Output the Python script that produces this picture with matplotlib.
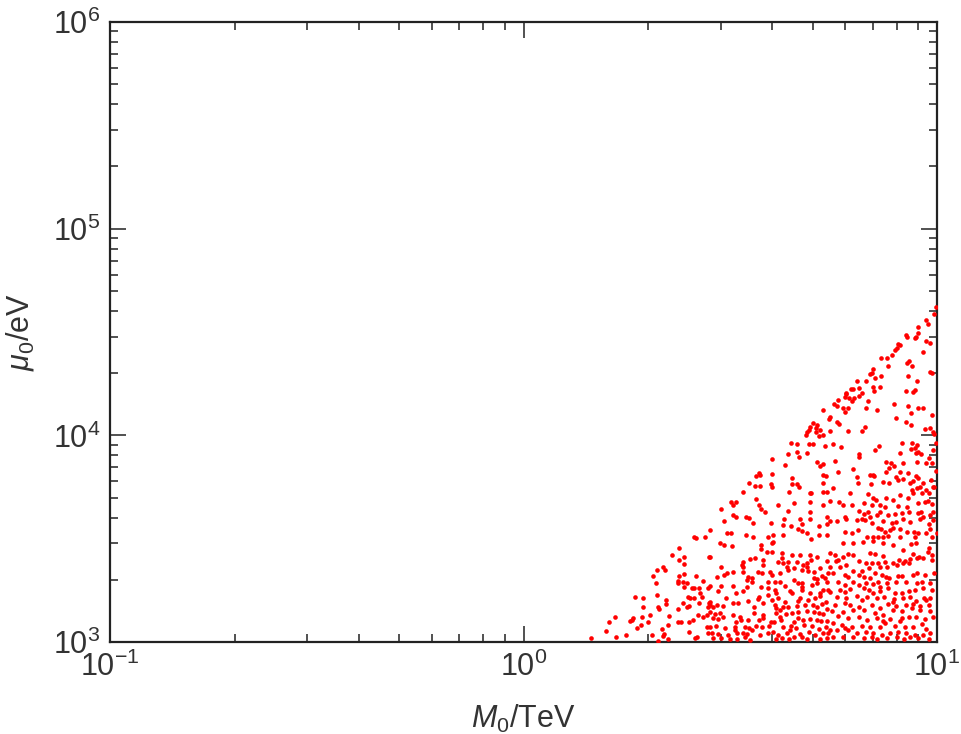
import numpy as np
import matplotlib
matplotlib.use('Agg')
import matplotlib.pyplot as plt
from matplotlib.ticker import LogLocator, NullFormatter

# scan points: M0 in TeV, mu0 in eV
M0 = [
    # 1.4 - 2.8 TeV
    2.58, 2.615, 2.75, 2.38, 2.28, 2.44, 2.38, 2.81, 2.44, 2.18, 2.2, 2.1, 2.06, 2.38, 2.44, 2.615,
    2.36, 2.43, 2.36, 2.49, 2.09, 2.44, 2.55, 2.59, 2.655, 2.72, 2.80, 2.67, 2.70, 2.50, 2.53, 2.59,
    2.10, 2.21, 2.21, 2.43, 2.655, 2.81, 1.86, 1.94, 1.94, 2.12, 2.13, 2.37, 2.49, 2.51, 2.80, 2.02,
    2.25, 1.66, 1.61, 1.81, 1.83, 1.84, 1.93, 2.00, 2.37, 2.41, 2.51, 2.57, 2.64, 2.72, 2.78, 1.92,
    1.88, 2.23, 2.16, 2.52, 1.58, 1.67, 1.77, 1.46, 2.05, 2.19, 2.17, 2.23, 2.60, 2.63, 2.12, 2.78,
    2.80,
    # 2.8 - 5.5 TeV, upper part
    5.31, 5.49, 5.00, 5.12, 4.93, 5.10, 4.89, 5.21, 4.86, 4.82, 5.10, 5.17, 5.31, 4.43, 4.58, 4.89,
    5.00, 5.35, 4.58, 4.84, 4.35, 4.65, 4.00, 5.14, 5.21, 5.31, 4.28, 3.72, 3.73, 3.66, 4.00, 5.31,
    5.39, 4.46, 3.52, 3.63, 3.73, 3.96, 4.00, 4.46, 4.58, 4.65, 5.31, 3.40, 4.39, 4.93, 4.97, 5.31,
    5.43, 3.66, 3.18, 3.26, 3.21, 3.72, 4.50, 4.93, 3.75, 3.83, 4.12, 4.35, 4.93, 5.31, 3.01, 3.21,
    3.26, 3.45, 3.52, 4.27, 4.66, 4.93, 5.43,
    # 2.8 - 5.5 TeV, lower part
    3.06, 3.58, 3.97, 4.24, 4.44, 4.71, 5.19, 5.41, 4.62, 4.71, 2.83, 3.11, 3.17, 3.45, 3.58, 3.91,
    4.02, 4.25, 4.84, 4.95, 5.17, 5.41, 3.98, 4.02, 3.75, 3.75, 2.98, 3.06, 3.19, 2.83, 3.87, 4.00,
    4.21, 4.21, 4.46, 4.66, 4.93, 5.14, 3.53, 3.63, 3.80, 4.12, 4.25, 4.37, 3.40, 3.37, 3.40, 3.80,
    4.58, 4.75, 4.84, 4.95, 5.41, 3.01, 3.11, 3.06, 3.22, 3.40, 3.50, 3.57, 3.70, 3.77, 3.95, 3.98,
    4.17, 4.33, 4.37, 4.50, 4.84, 4.71, 4.87, 5.03, 5.21, 5.26, 5.46, 2.93, 3.47, 3.57, 3.91, 4.06,
    4.17, 4.50, 4.62, 4.71, 5.03, 5.12, 5.35, 5.41, 2.83, 3.01, 3.21, 3.48, 3.75, 3.91, 4.06, 4.28,
    4.71, 4.98, 5.12, 5.31, 2.96, 3.40, 3.26, 3.72, 3.91, 4.09, 4.41, 4.46, 4.71, 4.93, 5.21, 5.46,
    2.83, 3.09, 3.30, 3.49, 3.69, 3.80, 3.98, 4.12, 4.28, 4.62, 4.66, 4.87, 5.07, 5.21, 5.39, 2.83,
    2.88, 2.93, 3.03, 3.21, 3.60, 4.06, 4.09, 4.17, 4.25, 4.37, 4.58, 4.80, 5.00, 5.12, 5.26, 5.43,
    2.83, 2.90, 2.99, 3.03, 3.21, 3.33, 3.60, 3.79, 4.09, 4.17, 4.31, 4.46, 4.61, 4.84, 5.05, 5.17,
    5.31, 2.88, 2.96, 3.26, 3.35, 3.50, 3.72, 3.80, 3.96, 4.03, 4.19, 4.50, 4.62, 4.75, 4.93, 5.12,
    5.24, 5.41, 2.83, 2.92, 3.07, 3.24, 3.43, 3.52, 3.65, 3.77, 3.93, 4.25, 4.43, 4.56, 4.77, 4.98,
    5.17, 5.39, 2.85, 2.96, 3.13, 3.24, 3.28, 3.40, 3.47, 3.57, 3.73, 3.91, 4.02, 4.13, 4.33, 4.41,
    4.66, 4.89, 5.07, 5.31, 5.46, 2.88, 3.01, 3.16, 3.28, 3.43, 3.53, 4.09, 4.21, 4.39, 4.50, 4.71,
    4.84, 5.21, 5.41,
    # 5.5 - 10 TeV, top edge
    9.94, 9.83, 9.42, 9.51, 8.98, 9.01, 8.42, 8.45, 8.85, 8.90, 9.42, 9.62, 9.25, 8.06, 8.14, 7.99,
    7.92, 7.77, 7.58, 7.33, 7.63, 8.57, 8.48, 8.68, 9.62, 9.71, 7.02, 6.95, 6.89, 7.10, 7.33, 6.73,
    6.42, 8.49, 8.93, 6.49, 6.20, 6.25, 6.01, 6.03, 6.60, 6.99, 7.05, 7.28, 8.42, 8.85, 8.77, 5.99,
    6.13, 6.31, 6.49, 6.22, 5.77, 5.63, 5.72, 6.82, 7.89, 5.92, 5.99, 6.10, 6.73, 7.15, 8.49, 9.01,
    9.25, 8.64, 7.96, 9.71, 5.51,
    # 5.5 - 10 TeV, middle
    5.74, 5.80, 5.51, 6.10, 6.60, 6.70, 8.42, 8.65, 9.38, 9.62, 9.79, 9.83, 9.94, 5.61, 5.86, 7.25,
    7.08, 8.22, 8.68, 8.96, 8.85, 8.64, 9.01, 8.90, 9.15, 8.14, 6.49, 6.49, 9.76, 9.58, 5.66, 7.52,
    7.74, 7.89, 7.67, 7.52, 8.26, 8.93, 9.42, 9.71, 6.27, 5.77, 6.89, 7.05, 6.99, 6.40, 6.44, 6.93,
    7.42, 7.67, 7.96, 8.06, 8.14, 8.26, 8.49, 8.60, 8.73, 8.90, 8.98, 9.10, 9.27, 9.66, 9.94, 9.79,
    5.61, 6.16, 6.80, 6.99, 7.12, 7.52, 7.81, 8.14, 8.49, 8.68, 8.77, 8.96, 9.18, 9.42, 9.58, 9.85,
    5.51, 5.80, 5.94, 6.22, 6.65, 6.95, 7.28, 7.48, 8.06, 8.45, 9.01, 9.38, 9.51, 9.71, 6.49, 6.65,
    6.80, 6.89, 6.60, 6.70, 7.15, 7.28, 7.63, 7.92, 7.96, 8.22, 8.57, 8.98, 9.15, 9.27, 9.62, 9.79,
    5.51, 5.72, 5.99, 6.01, 6.40, 6.95, 7.42, 7.77, 8.26, 8.60, 9.10, 9.58, 9.79, 5.99, 6.22, 6.44,
    6.78, 7.02, 7.22, 7.31, 7.48, 7.70, 7.84, 8.14, 8.45, 8.81, 8.98, 9.42, 9.62, 9.98, 7.19, 7.42,
    7.63, 8.14, 8.85, 9.71,
    # 5.5 - 10 TeV, bottom
    5.92, 6.27, 6.64, 6.99, 7.42, 7.81, 8.65, 8.90, 9.58, 5.51, 5.66, 5.94, 6.10, 6.27, 6.89, 7.08,
    7.39, 8.26, 8.73, 9.06, 9.51, 9.71, 5.77, 6.03, 5.83, 5.70, 6.46, 6.73, 6.95, 7.22, 7.48, 7.84,
    8.11, 8.35, 8.60, 8.93, 9.27, 9.71, 5.51, 6.27, 6.60, 6.86, 7.28, 7.58, 7.99, 8.26, 8.57, 5.61,
    5.99, 6.10, 6.46, 6.65, 6.89, 7.08, 7.35, 7.52, 7.67, 8.06, 8.22, 8.73, 8.93, 9.35, 9.83, 5.77,
    5.99, 6.27, 6.49, 6.73, 7.02, 7.22, 7.28, 7.55, 7.96, 8.42, 8.93, 9.18, 9.62, 5.51, 5.83, 5.99,
    6.16, 6.65, 6.86, 6.99, 7.28, 7.63, 7.92, 8.22, 8.57, 8.85, 9.27, 9.71, 5.72, 6.03, 6.40, 6.60,
    6.76, 7.15, 7.45, 7.89, 8.26, 8.60, 8.90, 9.32, 9.42, 9.62, 5.66, 5.99, 6.16, 6.46, 6.65, 6.95,
    7.28, 7.63, 7.84, 7.96, 8.42, 8.77, 9.10, 9.58, 5.56, 5.94, 6.27, 7.08, 7.42, 7.81, 8.22, 8.68,
    9.10, 9.62, 5.77, 6.10, 6.46, 6.76, 7.15, 7.39, 7.70, 8.14, 8.22, 8.57, 8.90, 9.35, 9.79, 5.61,
    5.89, 5.99, 6.22, 6.60, 6.89, 7.28, 7.48, 7.92, 8.37, 8.77, 9.18, 9.42, 5.51, 5.72, 6.10, 6.40,
    6.73, 7.02, 7.35, 7.70, 8.06, 8.42, 8.85, 9.25, 9.62, 5.61, 5.94, 6.27, 6.65, 6.95, 7.15, 7.55,
    7.99, 8.30, 8.60, 9.01, 9.58,
]

mu0 = [
    # 1.4 - 2.8 TeV
    3230, 3175, 3210, 2860, 2640, 2585, 2493, 2585, 2375, 2300, 2230, 2230, 2085, 2085, 2125, 2085,
    1973, 1950, 1925, 1925, 1925, 1850, 1830, 1830, 1818, 1980, 1818, 1735, 1660, 1660, 1630, 1630,
    1690, 1597, 1520, 1550, 1550, 1550, 1660, 1630, 1480, 1470, 1445, 1445, 1470, 1500, 1470, 1350,
    1335, 1318, 1254, 1263, 1278, 1302, 1318, 1254, 1254, 1254, 1254, 1278, 1350, 1325, 1350, 1209,
    1173, 1209, 1152, 1114, 1134, 1061, 1077, 1049, 1077, 1093, 1066, 1030, 1045, 1061, 1015, 1178,
    1101,
    # 2.8 - 5.5 TeV, upper part
    13260, 11950, 11440, 11230, 10940, 10830, 10610, 10610, 10340, 10030, 10340, 9920, 10030, 9210, 9100, 9100,
    9100, 8920, 8330, 8230, 8080, 7830, 7680, 7460, 7110, 7270, 7190, 6610, 6450, 6340, 6510, 6450,
    6340, 6200, 5900, 5700, 5700, 5810, 5600, 5810, 5810, 5600, 5900, 5340, 5340, 5280, 5280, 5340,
    5340, 4900, 4770, 4770, 4610, 4610, 4690, 4770, 4390, 4250, 4610, 4320, 4250, 4610, 4390, 4120,
    4040, 4040, 4000, 3930, 3920, 3960, 4040,
    # 2.8 - 5.5 TeV, lower part
    3850, 3780, 3780, 3680, 3650, 3720, 3650, 3720, 3520, 3460, 3480, 3380, 3380, 3300, 3220, 3220,
    3300, 3300, 3360, 3150, 3300, 3300, 3000, 3050, 2950, 2810, 3000, 2950, 2920, 2590, 2740, 2720,
    2690, 2540, 2640, 2640, 2640, 2570, 2510, 2540, 2490, 2450, 2420, 2450, 2450, 2360, 2310, 2360,
    2450, 2360, 2420, 2490, 2470, 2310, 2150, 2110, 2190, 2190, 2070, 2030, 2190, 2160, 2190, 2110,
    2150, 2310, 2230, 2270, 2310, 2230, 2210, 2190, 2270, 2090, 2150, 2060, 2000, 1960, 1960, 1960,
    1960, 2000, 1925, 1925, 2030, 2010, 2030, 1960, 1865, 1865, 1865, 1850, 1850, 1820, 1785, 1865,
    1850, 1890, 1925, 1785, 1770, 1770, 1735, 1660, 1690, 1720, 1770, 1720, 1785, 1720, 1735, 1785,
    1570, 1630, 1550, 1585, 1615, 1550, 1597, 1630, 1570, 1585, 1630, 1597, 1630, 1670, 1570, 1510,
    1480, 1510, 1490, 1540, 1470, 1510, 1455, 1428, 1470, 1470, 1490, 1510, 1510, 1470, 1525, 1440,
    1400, 1365, 1375, 1325, 1350, 1325, 1375, 1350, 1385, 1325, 1365, 1385, 1400, 1415, 1400, 1385,
    1360, 1302, 1288, 1254, 1278, 1278, 1278, 1302, 1254, 1254, 1278, 1254, 1302, 1278, 1288, 1278,
    1263, 1268, 1186, 1195, 1165, 1186, 1186, 1165, 1195, 1178, 1195, 1178, 1195, 1165, 1209, 1195,
    1152, 1178, 1109, 1093, 1081, 1143, 1109, 1109, 1093, 1143, 1081, 1109, 1122, 1081, 1101, 1143,
    1093, 1122, 1081, 1101, 1109, 1042, 1042, 1030, 1030, 1061, 1022, 1030, 1042, 1030, 1061, 1055,
    1030, 1030, 1042,
    # 5.5 - 10 TeV, top edge
    41600, 38800, 36130, 34500, 33300, 31300, 30700, 29900, 29500, 30000, 28700, 28000, 25200, 27600, 27300, 26600,
    25860, 24500, 23600, 23600, 21700, 22900, 22300, 21600, 20300, 20100, 20900, 20100, 19800, 19000, 19400, 18400,
    18400, 19400, 18400, 16900, 16700, 16700, 16100, 15800, 16100, 17200, 16400, 17200, 16400, 16570, 16250, 15400,
    15100, 15100, 15500, 14700, 14900, 14200, 13900, 14700, 14200, 13500, 13000, 13500, 13500, 13260, 13800, 13500,
    13500, 12800, 12200, 12500, 12300,
    # 5.5 - 10 TeV, middle
    11640, 11350, 10530, 10530, 10530, 10940, 11640, 11230, 10690, 10800, 10400, 10140, 9140, 9100, 8750, 8920,
    8490, 9210, 9210, 8980, 8640, 8560, 8330, 8190, 8080, 8230, 8120, 7880, 8490, 7750, 7540, 7400,
    7320, 7110, 6970, 6670, 7320, 7450, 7370, 7370, 6850, 6620, 6450, 6340, 6450, 6300, 5860, 5810,
    5930, 5860, 6300, 6078, 6670, 6130, 6550, 5860, 6030, 6380, 6200, 5650, 5900, 6078, 6720, 5650,
    5540, 5280, 5190, 4990, 4864, 5000, 4864, 5150, 4990, 5438, 5280, 5540, 5280, 5438, 5250, 5650,
    4820, 4770, 4610, 4610, 4690, 4610, 4610, 4480, 4550, 4480, 4720, 4770, 4820, 4650, 4320, 4160,
    4270, 4040, 3960, 3893, 4120, 4270, 4120, 4160, 3820, 4190, 4270, 4190, 4250, 4040, 4120, 4270,
    3860, 3860, 4040, 3920, 3893, 3780, 3860, 3750, 3920, 3820, 3920, 3720, 3893, 3420, 3360, 3483,
    3230, 3230, 3550, 3510, 3420, 3483, 3550, 3510, 3420, 3420, 3380, 3360, 3510, 3380, 3220, 3230,
    3260, 3230, 3230, 3220,
    # 5.5 - 10 TeV, bottom
    3000, 3000, 3060, 3080, 3000, 2950, 2980, 3000, 2840, 2700, 2640, 2590, 2670, 2640, 2690, 2670,
    2610, 2787, 2670, 2590, 2730, 2640, 2493, 2360, 2300, 2470, 2470, 2420, 2420, 2420, 2450, 2420,
    2493, 2465, 2510, 2540, 2540, 2493, 2300, 2210, 2210, 2270, 2300, 2310, 2360, 2400, 2400, 2150,
    2110, 2070, 2110, 2070, 2030, 2150, 2110, 2070, 2030, 2085, 2085, 2110, 2150, 2110, 2150, 1960,
    1890, 1960, 1890, 1940, 1910, 1960, 1850, 1925, 1960, 1960, 1940, 1960, 1925, 1750, 1785, 1750,
    1800, 1820, 1785, 1735, 1770, 1820, 1720, 1735, 1770, 1785, 1820, 1785, 1660, 1630, 1670, 1597,
    1645, 1630, 1645, 1610, 1630, 1660, 1585, 1630, 1597, 1630, 1510, 1550, 1510, 1470, 1428, 1510,
    1455, 1525, 1570, 1490, 1510, 1525, 1490, 1510, 1415, 1400, 1428, 1385, 1350, 1428, 1415, 1455,
    1428, 1415, 1335, 1302, 1325, 1278, 1302, 1268, 1288, 1268, 1302, 1325, 1325, 1288, 1325, 1233,
    1209, 1165, 1186, 1195, 1178, 1178, 1233, 1195, 1178, 1178, 1222, 1152, 1143, 1143, 1143, 1101,
    1122, 1101, 1081, 1109, 1122, 1101, 1081, 1081, 1101, 1061, 1061, 1055, 1042, 1061, 1034, 1042,
    1055, 1034, 1055, 1042, 1034,
]

plt.rcParams['font.family'] = ['Liberation Sans', 'DejaVu Sans']
plt.rcParams['mathtext.fontset'] = 'custom'
plt.rcParams['mathtext.rm'] = 'Liberation Sans'
plt.rcParams['mathtext.it'] = 'Liberation Sans:italic'
plt.rcParams['mathtext.default'] = 'regular'

text_c = '#333333'
fig = plt.figure(figsize=(9.61, 7.34), dpi=100)
ax = fig.add_axes([0.1145, 0.1253, 0.8605, 0.8447])

ax.scatter(M0, mu0, s=11, color='#ff0000', linewidths=0, zorder=3)

ax.set_xscale('log')
ax.set_yscale('log')
ax.set_xlim(0.1, 10)
ax.set_ylim(1e3, 1e6)

ax.xaxis.set_minor_locator(LogLocator(base=10, subs=np.arange(2, 10)))
ax.yaxis.set_minor_locator(LogLocator(base=10, subs=np.arange(2, 10)))
ax.xaxis.set_minor_formatter(NullFormatter())
ax.yaxis.set_minor_formatter(NullFormatter())

ax.tick_params(which='both', direction='in', top=True, right=True,
               colors='#222222', labelcolor=text_c, labelsize=22)
ax.tick_params(which='major', length=11.5, width=1.1, pad=7)
ax.tick_params(which='minor', length=6, width=1.1)
for sp in ax.spines.values():
    sp.set_linewidth(1.6)
    sp.set_color('#222222')

ax.set_xlabel(r'$\mathit{M}_{0}$/TeV', fontsize=22, color=text_c, labelpad=14)
ax.set_ylabel(r'$\mathit{\mu}_{0}$/eV', fontsize=22, color=text_c, labelpad=12)

fig.savefig('out.png', dpi=100)
